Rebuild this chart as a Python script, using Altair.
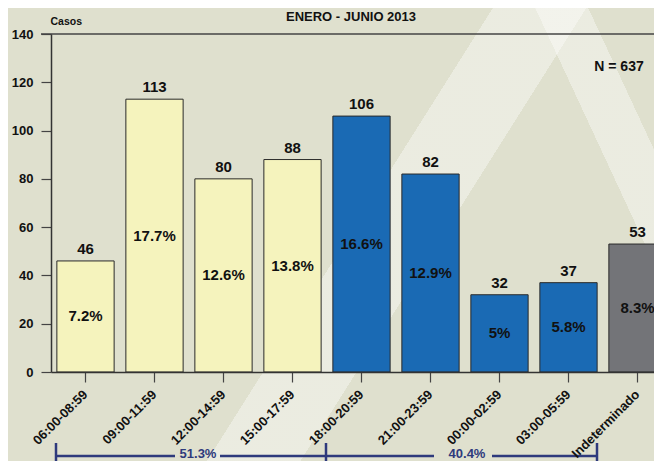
import altair as alt
import pandas as pd

categorias = ["06:00-08:59", "09:00-11:59", "12:00-14:59", "15:00-17:59",
              "18:00-20:59", "21:00-23:59", "00:00-02:59", "03:00-05:59",
              "Indeterminado"]
casos = [46, 113, 80, 88, 106, 82, 32, 37, 53]
porcentajes = ["7.2%", "17.7%", "12.6%", "13.8%", "16.6%", "12.9%", "5%", "5.8%", "8.3%"]
grupos = ["diurno"] * 4 + ["nocturno"] * 4 + ["indeterminado"]
grupo_labels = ["51.3%", "40.4%"]
titulo = "ENERO - JUNIO 2013"
total = "N = 637"

df = pd.DataFrame({"cat": categorias, "casos": casos, "pct": porcentajes, "grupo": grupos})
df["mid"] = df["casos"] / 2

FONT = "Liberation Sans"
NAVY = "#2e3a7c"
BG = "#dfe0ce"

x_enc = alt.X("cat:N", sort=categorias,
              scale=alt.Scale(range=[0, 621], paddingInner=0.17, paddingOuter=0.085),
              axis=alt.Axis(title=None, labelAngle=-45, labelAlign="right", labelBaseline="middle",
                            labelFont=FONT, labelFontSize=13, labelFontWeight="bold", labelColor="#111",
                            labelPadding=10, tickSize=10, tickColor="#444", tickWidth=1.2,
                            domainColor="#333", domainWidth=1.5, zindex=1))
y_scale = alt.Scale(domain=[0, 140])

stripe = "rgba(255,255,255,0.38)"
clear = "rgba(255,255,255,0)"
grad1 = {"gradient": "linear", "x1": 0, "y1": 0, "x2": 0.8457, "y2": 0.5337,
         "stops": [{"offset": 0, "color": clear}, {"offset": 0.421, "color": clear},
                   {"offset": 0.4211, "color": stripe}, {"offset": 0.5, "color": stripe},
                   {"offset": 0.5001, "color": clear}, {"offset": 1, "color": clear}]}
grad2 = {"gradient": "linear", "x1": 0, "y1": 1, "x2": 0.9068, "y2": 0.5785,
         "stops": [{"offset": 0, "color": clear}, {"offset": 0.9035, "color": clear},
                   {"offset": 0.9036, "color": stripe}, {"offset": 0.9515, "color": stripe},
                   {"offset": 0.9516, "color": clear}, {"offset": 1, "color": clear}]}

one = alt.Data(values=[{}])
bg1 = alt.Chart(one).mark_rect(fill=grad1).encode(
    x=alt.value(-51), x2=alt.value(949), y=alt.value(-34), y2=alt.value(966))
bg2 = alt.Chart(one).mark_rect(fill=grad2).encode(
    x=alt.value(-51), x2=alt.value(949), y=alt.value(-34), y2=alt.value(966))

top_rule = alt.Chart(one).mark_rule(color="#444", strokeWidth=1.5).encode(
    x=alt.value(-10), x2=alt.value(700), y=alt.datum(140, scale=y_scale))

base = alt.Chart(df)
bars = base.mark_bar(stroke="#2a2a2a", strokeWidth=1).encode(
    x=x_enc,
    y=alt.Y("casos:Q", scale=y_scale,
            axis=alt.Axis(title="Casos", titleAngle=0, titleX=-1, titleY=-8, titleAlign="left",
                          titleBaseline="bottom", titleFont=FONT, titleFontSize=10.5,
                          titleFontWeight="bold", titleColor="#111",
                          values=[0, 20, 40, 60, 80, 100, 120, 140], grid=False,
                          labelFont=FONT, labelFontSize=13, labelFontWeight="bold", labelColor="#111",
                          labelPadding=8, tickSize=10, tickColor="#444", tickWidth=1.2,
                          domainColor="#333", domainWidth=1.5, zindex=1)),
    color=alt.Color("grupo:N", scale=alt.Scale(domain=["diurno", "nocturno", "indeterminado"],
                                               range=["#f5f3bd", "#1a6ab4", "#737478"]),
                    legend=None),
)
val_text = base.mark_text(font=FONT, fontSize=15, fontWeight="bold", color="#111",
                          baseline="alphabetic", dy=-7).encode(
    x=alt.X("cat:N", sort=categorias), y=alt.Y("casos:Q", scale=y_scale), text="casos:Q")
pct_text = base.mark_text(font=FONT, fontSize=15, fontWeight="bold", color="#111",
                          baseline="middle").encode(
    x=alt.X("cat:N", sort=categorias), y=alt.Y("mid:Q", scale=y_scale), text="pct:N")

n_text = alt.Chart(one).mark_text(font=FONT, fontSize=14, fontWeight="bold", color="#111",
                                  baseline="middle").encode(
    x=alt.value(568), y=alt.value(33), text=alt.value(total))

title_text = alt.Chart(one).mark_text(font=FONT, fontSize=13, fontWeight="bold", color="#111",
                                      baseline="middle").encode(
    x=alt.value(300), y=alt.value(-17), text=alt.value(titulo))

# bottom brackets
bw = 2.5
hy = 422
seg_specs = [(5, 124), (169, 275), (275, 383), (441, 546)]
segs = [alt.Chart(one).mark_rule(color=NAVY, strokeWidth=bw).encode(
    x=alt.value(a), x2=alt.value(b), y=alt.value(hy)) for a, b in seg_specs]
ticks = [alt.Chart(one).mark_rule(color=NAVY, strokeWidth=bw).encode(
    x=alt.value(v), y=alt.value(hy - 13), y2=alt.value(hy + 14)) for v in (5, 275, 546)]
glabels = [alt.Chart(one).mark_text(font=FONT, fontSize=13, fontWeight="bold", color=NAVY,
                                    baseline="middle").encode(
    x=alt.value(px), y=alt.value(hy - 2), text=alt.value(t))
    for px, t in zip((147, 416), grupo_labels)]

chart = alt.layer(bg1, bg2, top_rule, bars, val_text, pct_text, n_text, title_text,
                  *segs, *ticks, *glabels).properties(
    width=603, height=338,
    autosize=alt.AutoSizeParams(type="none"),
    padding={"left": 43, "top": 26, "right": 0, "bottom": 89},
    background=BG,
).configure_view(stroke=None)

chart.save("out.html", embed_options={"renderer": "svg", "actions": False})
